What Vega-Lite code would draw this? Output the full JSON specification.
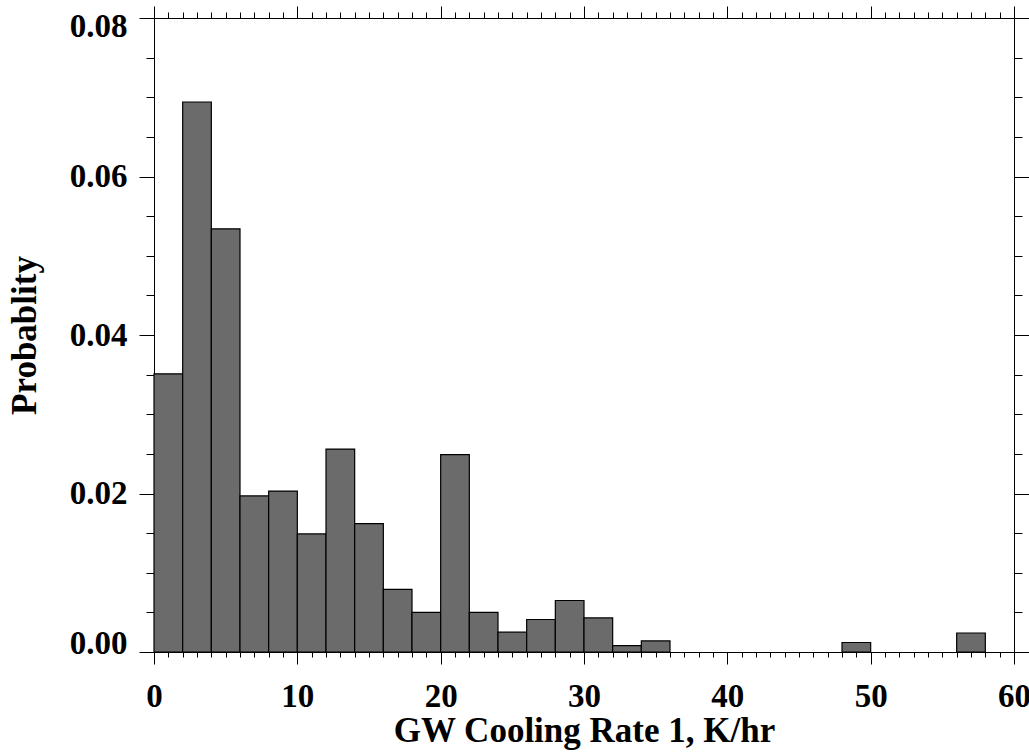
{
  "$schema": "https://vega.github.io/schema/vega-lite/v6.json",
  "autosize": {"type": "none"},
  "padding": {"left": 154, "top": 18, "right": 15, "bottom": 103},
  "width": 860,
  "height": 634,
  "background": "white",
  "config": {
    "view": {"stroke": null},
    "axis": {
      "labelFont": "Liberation Serif",
      "titleFont": "Liberation Serif",
      "labelFontWeight": "bold",
      "titleFontWeight": "bold",
      "labelColor": "black",
      "titleColor": "black",
      "domainColor": "black",
      "tickColor": "black",
      "domainWidth": 1,
      "tickWidth": 1,
      "grid": false,
      "labelOverlap": false,
      "labelFlush": false,
      "labelBound": false
    }
  },
  "data": {
    "values": [
      {"bin_start": 0, "bin_end": 2, "prob": 0.0351},
      {"bin_start": 2, "bin_end": 4, "prob": 0.0694},
      {"bin_start": 4, "bin_end": 6, "prob": 0.0534},
      {"bin_start": 6, "bin_end": 8, "prob": 0.0197},
      {"bin_start": 8, "bin_end": 10, "prob": 0.0203},
      {"bin_start": 10, "bin_end": 12, "prob": 0.0149},
      {"bin_start": 12, "bin_end": 14, "prob": 0.0256},
      {"bin_start": 14, "bin_end": 16, "prob": 0.0162},
      {"bin_start": 16, "bin_end": 18, "prob": 0.0079},
      {"bin_start": 18, "bin_end": 20, "prob": 0.0050},
      {"bin_start": 20, "bin_end": 22, "prob": 0.0249},
      {"bin_start": 22, "bin_end": 24, "prob": 0.0050},
      {"bin_start": 24, "bin_end": 26, "prob": 0.0025},
      {"bin_start": 26, "bin_end": 28, "prob": 0.0041},
      {"bin_start": 28, "bin_end": 30, "prob": 0.0065},
      {"bin_start": 30, "bin_end": 32, "prob": 0.0043},
      {"bin_start": 32, "bin_end": 34, "prob": 0.0008},
      {"bin_start": 34, "bin_end": 36, "prob": 0.0014},
      {"bin_start": 48, "bin_end": 50, "prob": 0.0012},
      {"bin_start": 56, "bin_end": 58, "prob": 0.0024}
    ]
  },
  "layer": [
    {
      "mark": {"type": "bar", "fill": "#6b6b6b", "stroke": "black", "strokeWidth": 1.2},
      "encoding": {
        "x": {
          "field": "bin_start", "type": "quantitative",
          "scale": {"domain": [0, 60], "nice": false, "zero": false},
          "axis": {
            "orient": "bottom",
            "title": "GW Cooling Rate 1, K/hr",
            "titleFontSize": 35,
            "titlePadding": 0,
            "labelFontSize": 33,
            "labelPadding": 16,
            "values": [0,1,2,3,4,5,6,7,8,9,10,11,12,13,14,15,16,17,18,19,20,21,22,23,24,25,26,27,28,29,30,31,32,33,34,35,36,37,38,39,40,41,42,43,44,45,46,47,48,49,50,51,52,53,54,55,56,57,58,59,60],
            "tickSize": {"condition": {"test": "datum.value % 10 === 0", "value": 12}, "value": 5},
            "labelExpr": "datum.value % 10 === 0 ? datum.label : ''"
          }
        },
        "x2": {"field": "bin_end"},
        "y": {
          "field": "prob", "type": "quantitative",
          "scale": {"domain": [0, 0.08], "nice": false},
          "axis": {
            "orient": "left",
            "title": "Probablity",
            "titleFontSize": 35,
            "titlePadding": 27,
            "labelFontSize": 33,
            "labelPadding": 12,
            "labelFlush": true,
            "labelFlushOffset": 8,
            "values": [0,0.005,0.01,0.015,0.02,0.025,0.03,0.035,0.04,0.045,0.05,0.055,0.06,0.065,0.07,0.075,0.08],
            "tickSize": {"condition": {"test": "abs(datum.value/0.02 - round(datum.value/0.02)) < 1e-6", "value": 15}, "value": 8},
            "labelExpr": "abs(datum.value/0.02 - round(datum.value/0.02)) < 1e-6 ? format(datum.value, '.2f') : ''"
          }
        },
        "y2": {"datum": 0}
      }
    },
    {
      "mark": {"type": "bar", "opacity": 0},
      "encoding": {
        "x": {
          "field": "bin_start", "type": "quantitative",
          "axis": {
            "orient": "top",
            "title": null,
            "labels": false,
            "values": [0,1,2,3,4,5,6,7,8,9,10,11,12,13,14,15,16,17,18,19,20,21,22,23,24,25,26,27,28,29,30,31,32,33,34,35,36,37,38,39,40,41,42,43,44,45,46,47,48,49,50,51,52,53,54,55,56,57,58,59,60],
            "tickSize": {"condition": {"test": "datum.value % 10 === 0", "value": 12}, "value": 6}
          }
        },
        "x2": {"field": "bin_end"},
        "y": {
          "field": "prob", "type": "quantitative",
          "axis": {
            "orient": "right",
            "title": null,
            "labels": false,
            "values": [0,0.005,0.01,0.015,0.02,0.025,0.03,0.035,0.04,0.045,0.05,0.055,0.06,0.065,0.07,0.075,0.08],
            "tickSize": {"condition": {"test": "abs(datum.value/0.02 - round(datum.value/0.02)) < 1e-6", "value": 15}, "value": 8}
          }
        },
        "y2": {"datum": 0}
      }
    }
  ],
  "resolve": {"axis": {"x": "independent", "y": "independent"}}
}
